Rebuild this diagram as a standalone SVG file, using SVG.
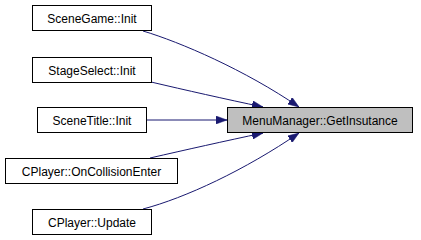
<svg xmlns="http://www.w3.org/2000/svg" width="421" height="240" viewBox="0 0 421 240">
  <style>
    .box { fill: #ffffff; stroke: #000000; stroke-width: 1; }
    .main { fill: #bfbfbf; stroke: #000000; stroke-width: 1; }
    .lbl { font-family: "Liberation Sans", Arial, sans-serif; font-size: 12px; fill: #000000; text-anchor: middle; }
    .edge { fill: none; stroke: #191970; stroke-width: 1; }
  </style>
  <defs>
    <marker id="arrow" viewBox="0 0 11 8" refX="11" refY="4" markerWidth="11" markerHeight="8" markerUnits="userSpaceOnUse" orient="auto">
      <path d="M0,0 L11,4 L0,8 Z" fill="#191970" stroke="#191970" stroke-width="0.5"/>
    </marker>
  </defs>
  <rect width="421" height="240" fill="#ffffff"/>

  <g id="edges">
    <path class="edge" marker-end="url(#arrow)" d="M143,31 C180,42 245,70 299,107"/>
    <path class="edge" marker-end="url(#arrow)" d="M151,82 C185,90 225,99 263,107"/>
    <path class="edge" marker-end="url(#arrow)" d="M146,120 L227,120"/>
    <path class="edge" marker-end="url(#arrow)" d="M150,158 C185,150 225,141 263,133"/>
    <path class="edge" marker-end="url(#arrow)" d="M143,209 C185,198 245,170 299,133"/>
  </g>

  <g id="node-main">
    <rect class="main" x="227.5" y="107.5" width="185" height="25"/>
    <text class="lbl" x="320" y="124.5">MenuManager::GetInsutance</text>
  </g>
  <g id="node-scenegame">
    <rect class="box" x="32.5" y="5.5" width="119" height="25"/>
    <text class="lbl" x="92" y="22.5">SceneGame::Init</text>
  </g>
  <g id="node-stageselect">
    <rect class="box" x="32.5" y="57.5" width="119" height="25"/>
    <text class="lbl" x="92" y="74.5">StageSelect::Init</text>
  </g>
  <g id="node-scenetitle">
    <rect class="box" x="37.5" y="107.5" width="109" height="25"/>
    <text class="lbl" x="92" y="124.5">SceneTitle::Init</text>
  </g>
  <g id="node-collision">
    <rect class="box" x="5.5" y="158.5" width="172" height="25"/>
    <text class="lbl" x="91.5" y="175.5">CPlayer::OnCollisionEnter</text>
  </g>
  <g id="node-update">
    <rect class="box" x="32.5" y="209.5" width="119" height="25"/>
    <text class="lbl" x="92" y="226.5">CPlayer::Update</text>
  </g>
</svg>
